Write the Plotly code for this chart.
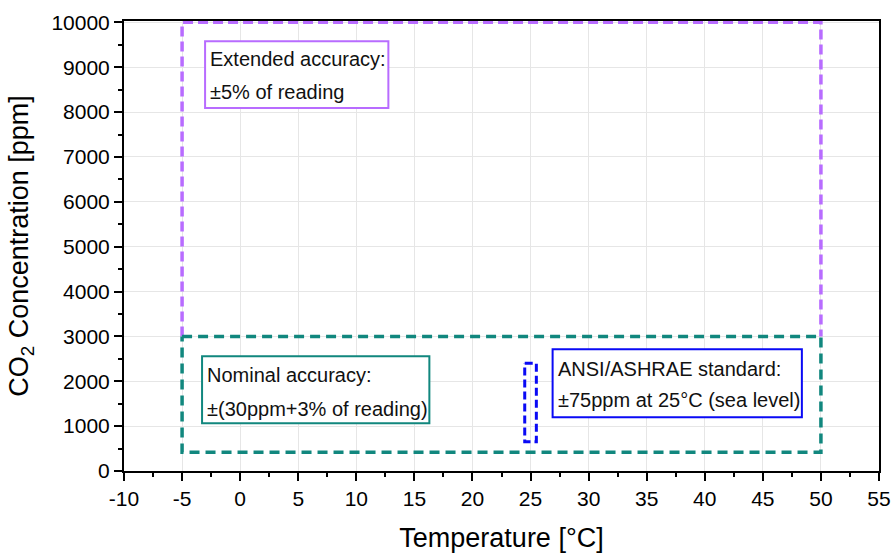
import plotly.graph_objects as go

# Data
temp_range = [-5, 50]
extended_co2 = [3000, 10000]
nominal_co2 = [420, 3000]
ansi_temp = [24.5, 25.5]
ansi_co2 = [650, 2400]

x_ticks = list(range(-10, 56, 5))
y_ticks = list(range(0, 10001, 1000))

PURPLE = "#B86CFF"
TEAL = "#11877E"
BLUE = "#0A0AF5"
FONT = "Liberation Sans, Arial, sans-serif"

fig = go.Figure()

# Extended accuracy (three sides)
fig.add_trace(go.Scatter(
    x=[temp_range[0], temp_range[0], temp_range[1], temp_range[1]],
    y=[extended_co2[0], extended_co2[1], extended_co2[1], extended_co2[0]],
    mode="lines", line=dict(color=PURPLE, width=3.5, dash="10px,5px"),
    hoverinfo="skip", showlegend=False))

# Nominal accuracy rectangle
fig.add_trace(go.Scatter(
    x=[temp_range[0], temp_range[1], temp_range[1], temp_range[0], temp_range[0]],
    y=[nominal_co2[1], nominal_co2[1], nominal_co2[0], nominal_co2[0], nominal_co2[1]],
    mode="lines", line=dict(color=TEAL, width=3.5, dash="10px,6px"),
    hoverinfo="skip", showlegend=False))

# ANSI/ASHRAE rectangle
fig.add_trace(go.Scatter(
    x=[ansi_temp[0], ansi_temp[1], ansi_temp[1], ansi_temp[0], ansi_temp[0]],
    y=[ansi_co2[1], ansi_co2[1], ansi_co2[0], ansi_co2[0], ansi_co2[1]],
    mode="lines", line=dict(color=BLUE, width=3, dash="8px,4px"),
    hoverinfo="skip", showlegend=False))

# Label boxes
boxes = [
    dict(x0=-3.02, x1=12.76, y0=8089, y1=9578, color=PURPLE,
         lines=["Extended accuracy:", "±5% of reading"], ys=[9178, 8444], tx=-2.75),
    dict(x0=-3.28, x1=16.29, y0=1067, y1=2556, color=TEAL,
         lines=["Nominal accuracy:", "±(30ppm+3% of reading)"], ys=[2133, 1378], tx=-3.0),
    dict(x0=26.9, x1=48.36, y0=1200, y1=2711, color=BLUE,
         lines=["ANSI/ASHRAE standard:", "±75ppm at 25°C (sea level)"], ys=[2267, 1578], tx=27.15),
]
for b in boxes:
    fig.add_shape(type="rect", xref="x", yref="y", x0=b["x0"], x1=b["x1"],
                  y0=b["y0"], y1=b["y1"], line=dict(color=b["color"], width=2),
                  fillcolor="white", layer="above")
    for t, yy in zip(b["lines"], b["ys"]):
        fig.add_annotation(x=b["tx"], y=yy, xref="x", yref="y", text=t,
                           showarrow=False, xanchor="left", yanchor="middle",
                           font=dict(family=FONT, size=20, color="#111"))

axis_common = dict(
    showline=True, linecolor="black", linewidth=2, mirror=True,
    ticks="outside", ticklen=8, tickwidth=2, tickcolor="black",
    showgrid=True, gridcolor="#e6e6e6", gridwidth=1,
    zeroline=False, layer="below traces", automargin=False,
    tickfont=dict(family=FONT, size=21, color="black"),
)

fig.update_xaxes(
    range=[-10, 55], tickvals=x_ticks, ticktext=[str(v) for v in x_ticks],
    minor=dict(ticks="outside", ticklen=4, tickwidth=2, tickcolor="black", dtick=2.5, showgrid=False),
    title=dict(text="Temperature [°C]", font=dict(family=FONT, size=27, color="black"), standoff=19),
    **axis_common)
fig.update_yaxes(
    range=[0, 10030], tickvals=y_ticks, ticktext=[str(v) for v in y_ticks],
    minor=dict(ticks="outside", ticklen=4, tickwidth=2, tickcolor="black", dtick=500, showgrid=False),
    title=dict(text="CO<sub>2</sub> Concentration [ppm]", font=dict(family=FONT, size=27, color="black"), standoff=15),
    **axis_common)

fig.update_layout(
    width=894, height=554,
    margin=dict(l=124, r=15, t=21, b=83),
    plot_bgcolor="white", paper_bgcolor="white",
    showlegend=False,
)

fig.write_html("out.html", config={"displayModeBar": False},
               post_script="document.body.style.margin='0';")
